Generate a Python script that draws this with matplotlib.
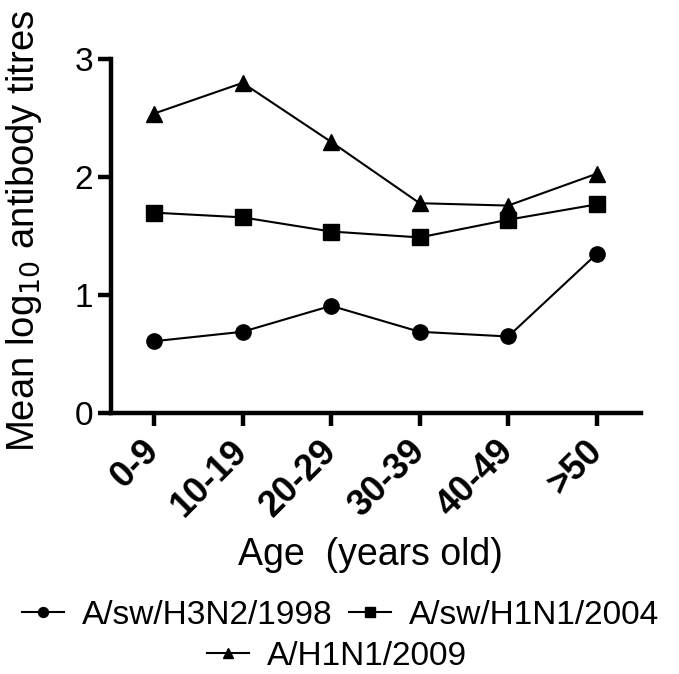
import matplotlib.pyplot as plt
import matplotlib.transforms as mtransforms

plt.rcParams['font.family'] = ['Liberation Sans', 'DejaVu Sans']

ages = ['0-9', '10-19', '20-29', '30-39', '40-49', '>50']
h3n2_1998 = [0.61, 0.69, 0.91, 0.69, 0.65, 1.35]
h1n1_2004 = [1.70, 1.66, 1.54, 1.49, 1.64, 1.77]
h1n1_2009 = [2.54, 2.80, 2.30, 1.78, 1.76, 2.03]

fig = plt.figure(figsize=(6.79, 6.74), dpi=100)
ax = fig.add_axes([0.163, 0.387, 0.781, 0.525])

x = list(range(len(ages)))
ax.plot(x, h3n2_1998, color='black', lw=1.5, marker='o', ms=11, label='A/sw/H3N2/1998')
ax.plot(x, h1n1_2004, color='black', lw=1.5, marker='s', ms=11, label='A/sw/H1N1/2004')
ax.plot(x, h1n1_2009, color='black', lw=1.5, marker='^', ms=12, label='A/H1N1/2009')

ax.set_xlim(-0.49, 5.5)
ax.set_ylim(0, 3)
ax.set_yticks([0, 1, 2, 3])
ax.set_xticks(x)
ax.set_xticklabels(ages, rotation=45, ha='right', va='center', rotation_mode='anchor',
                   fontsize=26, fontweight='bold')
# nudge the rotated labels a little to the right of their ticks
shift = mtransforms.ScaledTranslation(4 / 72, 0, fig.dpi_scale_trans)
for lab in ax.get_xticklabels():
    lab.set_transform(lab.get_transform() + shift)
ax.tick_params(axis='y', labelsize=24, width=3.2, length=9.5, pad=3)
ax.tick_params(axis='x', width=3.2, length=9.5, pad=14)
for side in ['top', 'right']:
    ax.spines[side].set_visible(False)
for side in ['left', 'bottom']:
    ax.spines[side].set_linewidth(3.2)

ax.set_ylabel('Mean log$_{10}$ antibody titres', fontsize=27.5)
ax.yaxis.set_label_coords(-0.126, 0.515)
ax.set_xlabel('Age  (years old)', fontsize=27)
ax.xaxis.set_label_coords(0.49, -0.35)

handles, labels = ax.get_legend_handles_labels()
kw = dict(frameon=False, fontsize=24, handlelength=1.26, handletextpad=0.54,
          columnspacing=0.48, markerscale=0.65, borderpad=0, borderaxespad=0)
fig.legend(handles[:2], labels[:2], ncol=2, loc='center',
           bbox_to_anchor=(0.5015, 0.087), **kw)
fig.legend(handles[2:], labels[2:], loc='center',
           bbox_to_anchor=(0.496, 0.026), **kw)

fig.savefig('out.png', dpi=100)
